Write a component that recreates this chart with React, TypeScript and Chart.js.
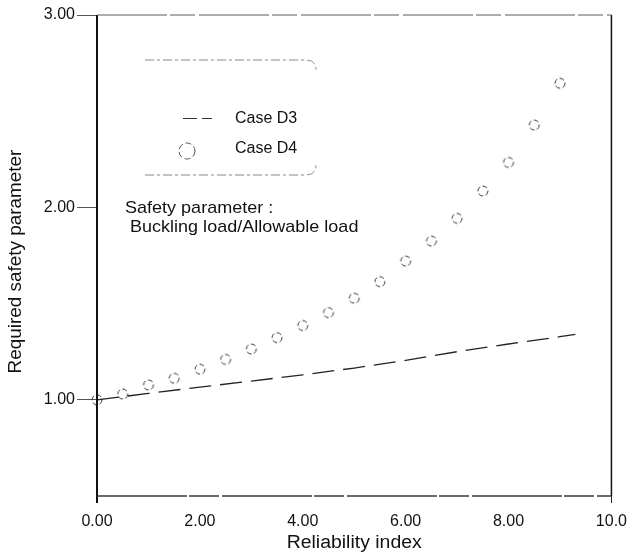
import React, { useEffect, useRef } from "react";
import { Chart, registerables } from "chart.js";

Chart.register(...registerables);

// Reliability index (beta) and the required safety parameter for each case
const betaD3 = [0, 1, 2, 3, 4, 5, 6, 7, 8, 9, 9.3];
const safetyD3 = [1.0, 1.033, 1.066, 1.097, 1.13, 1.165, 1.205, 1.25, 1.29, 1.328, 1.34];

const betaD4 = [0, 0.5, 1, 1.5, 2, 2.5, 3, 3.5, 4, 4.5, 5, 5.5, 6, 6.5, 7, 7.5, 8, 8.5, 9];
const safetyD4 = [
  1.0, 1.03, 1.077, 1.112, 1.159, 1.21, 1.264, 1.323, 1.386, 1.453, 1.528, 1.614,
  1.721, 1.825, 1.943, 2.085, 2.234, 2.428, 2.645,
];

const xTickValues = [0, 2, 4, 6, 8, 10];
const xTickLabels = ["0.00", "2.00", "4.00", "6.00", "8.00", "10.0"];
const yTickValues = [1, 2, 3];
const yTickLabels = ["1.00", "2.00", "3.00"];

const seriesNames = ["Case D3", "Case D4"];
const noteLines = ["Safety parameter :", " Buckling load/Allowable load"];
const xTitle = "Reliability index";
const yTitle = "Required safety parameter";

const FONT = '"Liberation Sans", Arial, sans-serif';

// broken-outline circle used as the marker for Case D4
function makeRingMarker(radius: number): HTMLCanvasElement {
  const size = radius * 2 + 4;
  const c = document.createElement("canvas");
  c.width = size;
  c.height = size;
  const g = c.getContext("2d")!;
  g.strokeStyle = "#333";
  g.lineWidth = 1;
  g.setLineDash([5, 2.5]);
  g.beginPath();
  g.arc(size / 2, size / 2, radius, 0, Math.PI * 2);
  g.stroke();
  return c;
}

function stretchedText(
  ctx: CanvasRenderingContext2D,
  text: string,
  x: number,
  y: number,
  size: number,
  sx: number,
  align: CanvasTextAlign,
  rotate = 0
) {
  ctx.save();
  ctx.translate(x, y);
  if (rotate) ctx.rotate(rotate);
  ctx.scale(sx, 1);
  ctx.font = `${size}px ${FONT}`;
  ctx.fillStyle = "#111";
  ctx.textAlign = align;
  ctx.textBaseline = "alphabetic";
  ctx.fillText(text, 0, 0);
  ctx.restore();
}

const framePlugin = {
  id: "frameAndNotes",
  afterDraw(chart: any) {
    const ctx: CanvasRenderingContext2D = chart.ctx;
    const { left, right, top, bottom } = chart.chartArea;

    // plot frame
    ctx.save();
    ctx.lineCap = "butt";
    ctx.strokeStyle = "#111";
    ctx.lineWidth = 2;
    ctx.beginPath();
    ctx.moveTo(left, top);
    ctx.lineTo(left, bottom + 7);
    ctx.stroke();

    ctx.lineWidth = 1.5;
    ctx.beginPath();
    ctx.moveTo(right, top);
    ctx.lineTo(right, bottom);
    ctx.stroke();

    ctx.strokeStyle = "#3a3a3a";
    ctx.lineWidth = 1.5;
    ctx.setLineDash([90, 2, 30, 3]);
    ctx.beginPath();
    ctx.moveTo(left, bottom);
    ctx.lineTo(right, bottom);
    ctx.stroke();

    ctx.strokeStyle = "#5a5a5a";
    ctx.lineWidth = 1;
    ctx.setLineDash([70, 3, 25, 4]);
    ctx.beginPath();
    ctx.moveTo(left, top);
    ctx.lineTo(right, top);
    ctx.stroke();
    ctx.restore();

    // legend box: top and bottom rules with rounded right corners
    const bx0 = 145, bx1 = 316, by0 = 60, by1 = 175, r = 10;
    ctx.save();
    ctx.strokeStyle = "#8a8a8a";
    ctx.lineWidth = 1;
    ctx.setLineDash([9, 3, 3, 3]);
    ctx.beginPath();
    ctx.moveTo(bx0, by0);
    ctx.lineTo(bx1 - r, by0);
    ctx.quadraticCurveTo(bx1, by0, bx1, by0 + r);
    ctx.moveTo(bx0, by1);
    ctx.lineTo(bx1 - r, by1);
    ctx.quadraticCurveTo(bx1, by1, bx1, by1 - r);
    ctx.stroke();
    ctx.restore();

    // legend samples
    ctx.save();
    ctx.strokeStyle = "#333";
    ctx.lineWidth = 1.2;
    ctx.setLineDash([14, 5]);
    ctx.beginPath();
    ctx.moveTo(183, 118.5);
    ctx.lineTo(212, 118.5);
    ctx.stroke();
    ctx.strokeStyle = "#555";
    ctx.setLineDash([6, 3]);
    ctx.lineWidth = 1;
    ctx.beginPath();
    ctx.arc(187, 151, 8, 0, Math.PI * 2);
    ctx.stroke();
    ctx.restore();

    stretchedText(ctx, seriesNames[0], 235, 123, 16, 1, "left");
    stretchedText(ctx, seriesNames[1], 235, 153, 16, 1, "left");

    // note text
    stretchedText(ctx, noteLines[0], 125, 213, 17, 1.06, "left");
    stretchedText(ctx, noteLines[1], 125, 232, 17, 1.06, "left");

    // axis titles
    stretchedText(ctx, xTitle, (left + right) / 2, 548, 18, 1.08, "center");
    stretchedText(ctx, yTitle, 21, (top + bottom) / 2 + 6, 17.5, 1.08, "center", -Math.PI / 2);
  },
};

export default function App() {
  const canvasRef = useRef<HTMLCanvasElement | null>(null);

  useEffect(() => {
    const canvas = canvasRef.current;
    if (!canvas) return;
    const ring = makeRingMarker(5);

    const chart = new Chart(canvas, {
      type: "line",
      data: {
        datasets: [
          {
            label: seriesNames[0],
            data: betaD3.map((b, i) => ({ x: b, y: safetyD3[i] })),
            borderColor: "#222",
            borderWidth: 1.3,
            borderDash: [22, 9],
            pointRadius: 0,
            fill: false,
            tension: 0,
          },
          {
            label: seriesNames[1],
            data: betaD4.map((b, i) => ({ x: b, y: safetyD4[i] })),
            showLine: false,
            pointStyle: ring as any,
            pointRadius: 5,
            borderColor: "#333",
            backgroundColor: "rgba(0,0,0,0)",
            clip: false as any,
          },
        ],
      },
      options: {
        responsive: false,
        animation: false,
        layout: { padding: { top: 15, right: 15, left: 0, bottom: 0 } },
        plugins: {
          legend: { display: false },
          tooltip: { enabled: false },
          title: { display: false },
        },
        scales: {
          x: {
            type: "linear",
            min: 0,
            max: 10,
            afterBuildTicks: (scale: any) => {
              scale.ticks = xTickValues.map((v) => ({ value: v }));
            },
            afterFit: (scale: any) => {
              scale.height = 59;
            },
            ticks: {
              autoSkip: false,
              maxRotation: 0,
              padding: 9,
              color: "#111",
              font: { family: FONT, size: 16 },
              callback: (v: any) => xTickLabels[xTickValues.indexOf(Number(v))] ?? "",
            },
            grid: {
              drawOnChartArea: false,
              drawTicks: true,
              tickLength: 7,
              tickColor: (c: any) =>
                c.index === xTickValues.length - 1 ? "#222" : "rgba(0,0,0,0)",
            },
            border: { display: false },
          },
          y: {
            type: "linear",
            min: 0.5,
            max: 3,
            afterBuildTicks: (scale: any) => {
              scale.ticks = yTickValues.map((v) => ({ value: v }));
            },
            afterFit: (scale: any) => {
              scale.width = 97;
            },
            ticks: {
              autoSkip: false,
              padding: 2,
              color: "#111",
              font: { family: FONT, size: 16 },
              callback: (v: any) => yTickLabels[yTickValues.indexOf(Number(v))] ?? "",
            },
            grid: {
              drawOnChartArea: false,
              drawTicks: true,
              tickLength: 20,
              tickColor: "#555",
              lineWidth: 1,
            },
            border: { display: false },
          },
        },
      },
      plugins: [framePlugin],
    });

    return () => chart.destroy();
  }, []);

  return (
    <div style={{ position: "fixed", left: 0, top: 0, width: 636, height: 555, background: "#fff" }}>
      <canvas ref={canvasRef} width={636} height={555} />
    </div>
  );
}
